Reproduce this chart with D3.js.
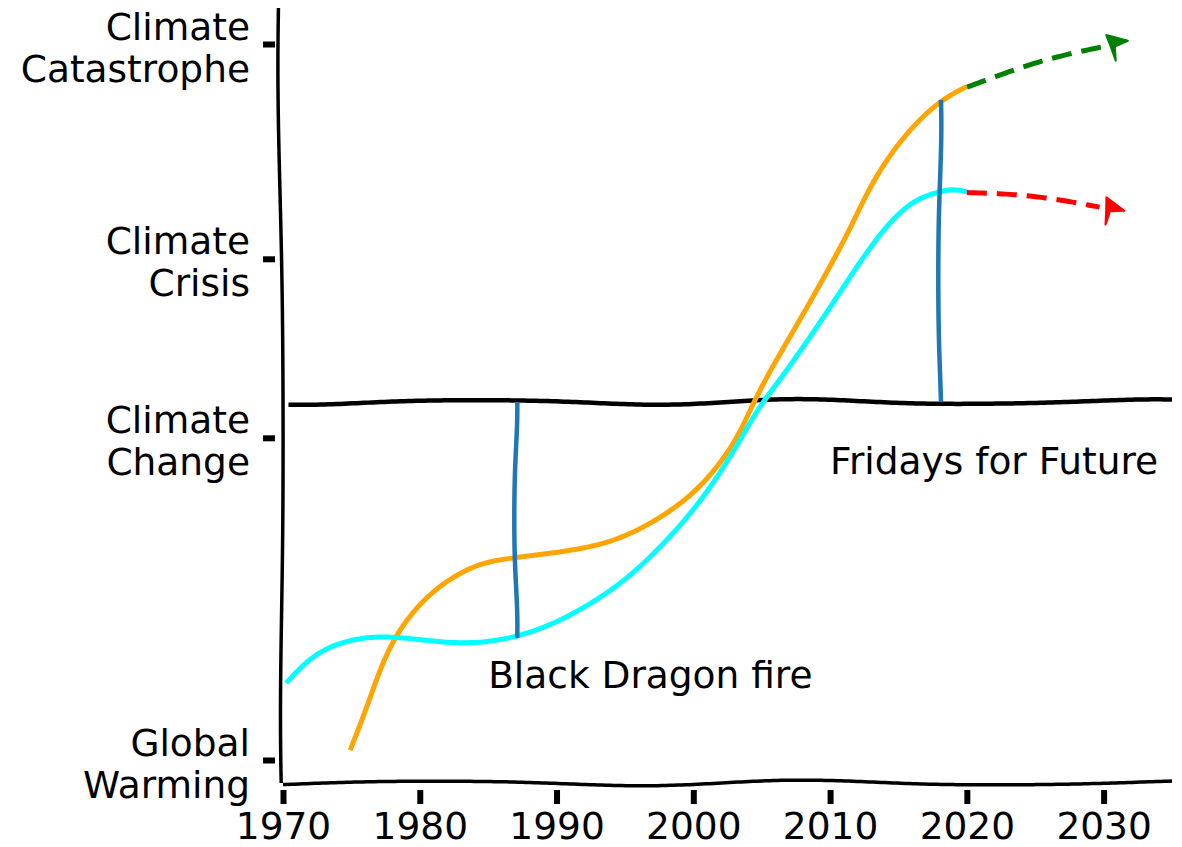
<!DOCTYPE html>
<html>
<head>
<meta charset="utf-8">
<script src="https://cdn.jsdelivr.net/npm/d3@7"></script>
<style>
body { margin: 0; background: #fff; }
text { font-family: "DejaVu Sans", sans-serif; fill: #000; }
</style>
</head>
<body>
<svg width="1182" height="847"></svg>
<script>
// data
var xTicks = [1970, 1980, 1990, 2000, 2010, 2020, 2030];
var yTicks = [0, 4.5, 7, 10];
var yTickLabels = [["Global", "Warming"], ["Climate", "Change"], ["Climate", "Crisis"], ["Climate", "Catastrophe"]];

var orangeYears = [1974.9, 1976.1, 1977.1, 1978.3, 1980, 1982, 1984.4, 1986.8, 1991.7, 1995.1, 1998.8, 2001.2, 2003.2, 2004.3, 2005.4, 2007.8, 2009.7, 2011.4, 2013.1, 2015.3, 2017.8, 2020];
var orangeLevels = [0.14, 0.74, 1.30, 1.77, 2.19, 2.51, 2.75, 2.82, 2.93, 3.11, 3.53, 3.95, 4.47, 4.93, 5.35, 6.15, 6.80, 7.40, 8.10, 8.70, 9.18, 9.40];

var cyanYears = [1970.2, 1972.2, 1974.7, 1977.1, 1979.5, 1982, 1984.4, 1986.8, 1989.3, 1991.7, 1995.1, 1998.8, 2001.2, 2003.2, 2004.8, 2006.5, 2009.7, 2011.6, 2013.8, 2016, 2018, 2018.9, 2020];
var cyanLevels = [1.08, 1.49, 1.68, 1.73, 1.69, 1.63, 1.63, 1.70, 1.86, 2.09, 2.51, 3.21, 3.77, 4.37, 4.93, 5.35, 6.24, 6.80, 7.40, 7.82, 7.93, 7.97, 7.93];

var greenYears = [2020, 2024.8, 2030];
var greenLevels = [9.40, 9.75, 9.96];
var redYears = [2020, 2024.8, 2029.7];
var redLevels = [7.93, 7.89, 7.72];

var thresholdLevel = 5;
var eventYears = [1987, 2018];
var eventLow = [1.70, 5];
var eventHigh = [5, 9.22];
var eventLabels = ["Black Dragon fire", "Fridays for Future"];
var labelYears = [1985, 2010];
var labelLevels = [1.0, 4.0];

var svg = d3.select("svg"),
	width = +svg.attr("width"),
	height = +svg.attr("height");

var x = d3.scaleLinear().domain([1970, 2035]).range([283, 1172]);
var y = d3.scaleLinear().domain([0, 10]).range([760, 44]);
var fontSize = 37.5;

// xkcd-ish wobble: resample a path and push points sideways along a smooth wave
var scratch = svg.append("path").attr("fill", "none");
function wobble(pts, curve, amp, wave, phase) {
	scratch.attr("d", d3.line().curve(curve)(pts));
	var node = scratch.node(), len = node.getTotalLength();
	var n = Math.max(2, Math.ceil(len / 4)), out = [];
	for (var i = 0; i <= n; i++) {
		var s = len * i / n;
		var p = node.getPointAtLength(s);
		var q = node.getPointAtLength(Math.min(len, s + 1));
		var r = node.getPointAtLength(Math.max(0, s - 1));
		var dx = q.x - r.x, dy = q.y - r.y, d = Math.hypot(dx, dy) || 1;
		var off = amp * (0.8 * Math.sin(2 * Math.PI * s / wave + phase) + 0.2 * Math.sin(2 * Math.PI * s / (wave * 0.61) + phase * 1.7));
		out.push([p.x - dy / d * off, p.y + dx / d * off]);
	}
	return d3.line().curve(d3.curveLinear)(out);
}

function pts(xs, ys) {
	return xs.map(function(v, i) { return [x(v), y(ys[i])]; });
}

// spines
svg.append("path")
	.attr("d", wobble([[280, 8], [283, 783]], d3.curveLinear, 2.5, 600, 0.6))
	.attr("fill", "none").attr("stroke", "#000").attr("stroke-width", 3.5);
svg.append("path")
	.attr("d", wobble([[283, 783], [1172, 783]], d3.curveLinear, 3, 380, 2.2))
	.attr("fill", "none").attr("stroke", "#000").attr("stroke-width", 3.5);

// axes
var xAxis = svg.append("g")
	.attr("transform", "translate(0,790)")
	.call(d3.axisBottom(x).tickValues(xTicks).tickSize(14).tickPadding(8).tickFormat(d3.format("d")));
xAxis.select(".domain").remove();
xAxis.selectAll(".tick line").attr("stroke", "#000").attr("stroke-width", 6);
xAxis.selectAll(".tick text").attr("font-size", fontSize).attr("font-family", "DejaVu Sans");

var yAxis = svg.append("g")
	.attr("transform", "translate(275,0)")
	.call(d3.axisLeft(y).tickValues(yTicks).tickSize(12).tickPadding(13).tickFormat(""));
yAxis.select(".domain").remove();
yAxis.selectAll(".tick line").attr("stroke", "#000").attr("stroke-width", 6);
yAxis.selectAll(".tick text")
	.attr("font-size", fontSize).attr("font-family", "DejaVu Sans").attr("dy", null)
	.each(function(d) {
		var t = d3.select(this), lines = yTickLabels[yTicks.indexOf(d)];
		t.append("tspan").attr("x", -25).attr("y", -5).text(lines[0]);
		t.append("tspan").attr("x", -25).attr("y", 37).text(lines[1]);
	});

// threshold line
svg.append("path")
	.attr("d", wobble([[x(1970.4), y(thresholdLevel)], [x(2035), y(thresholdLevel)]], d3.curveLinear, 3, 330, 1.1))
	.attr("fill", "none").attr("stroke", "#000").attr("stroke-width", 4.5);

// main curves
svg.append("path")
	.attr("d", wobble(pts(orangeYears, orangeLevels), d3.curveBasis, 0.6, 350, 0.3))
	.attr("fill", "none").attr("stroke", "orange").attr("stroke-width", 5);
svg.append("path")
	.attr("d", wobble(pts(cyanYears, cyanLevels), d3.curveBasis, 0.6, 350, 1.3))
	.attr("fill", "none").attr("stroke", "cyan").attr("stroke-width", 5);

// projections with arrow heads
function projection(xs, ys, color, phase) {
	var p = pts(xs, ys);
	svg.append("path")
		.attr("d", wobble(p, d3.curveBasis, 0.5, 200, phase))
		.attr("fill", "none").attr("stroke", color).attr("stroke-width", 5)
		.attr("stroke-dasharray", "20,10");
	var a = p[p.length - 2], b = p[p.length - 1];
	var ang = Math.atan2(b[1] - a[1], b[0] - a[0]);
	var head = [[5, -11], [25, -1], [11, 2], [9, 16], [7, 1]];
	svg.append("path")
		.attr("d", "M" + head.map(function(h) {
			return [b[0] + h[0] * Math.cos(ang) - h[1] * Math.sin(ang), b[1] + h[0] * Math.sin(ang) + h[1] * Math.cos(ang)];
		}).join("L") + "Z")
		.attr("fill", color).attr("stroke", color).attr("stroke-width", 2).attr("stroke-linejoin", "round");
}
projection(greenYears, greenLevels, "green", 0.4);
projection(redYears, redLevels, "red", 2.0);

// event markers
eventYears.forEach(function(yr, i) {
	svg.append("path")
		.attr("d", wobble([[x(yr), y(eventLow[i])], [x(yr), y(eventHigh[i])]], d3.curveLinear, 2, 200 + 80 * i, 0.9 + i))
		.attr("fill", "none").attr("stroke", "#1f77b4").attr("stroke-width", 4.5);
	svg.append("text")
		.attr("x", x(labelYears[i]))
		.attr("y", y(labelLevels[i]))
		.attr("font-size", fontSize)
		.text(eventLabels[i]);
});
scratch.remove();
</script>
</body>
</html>
